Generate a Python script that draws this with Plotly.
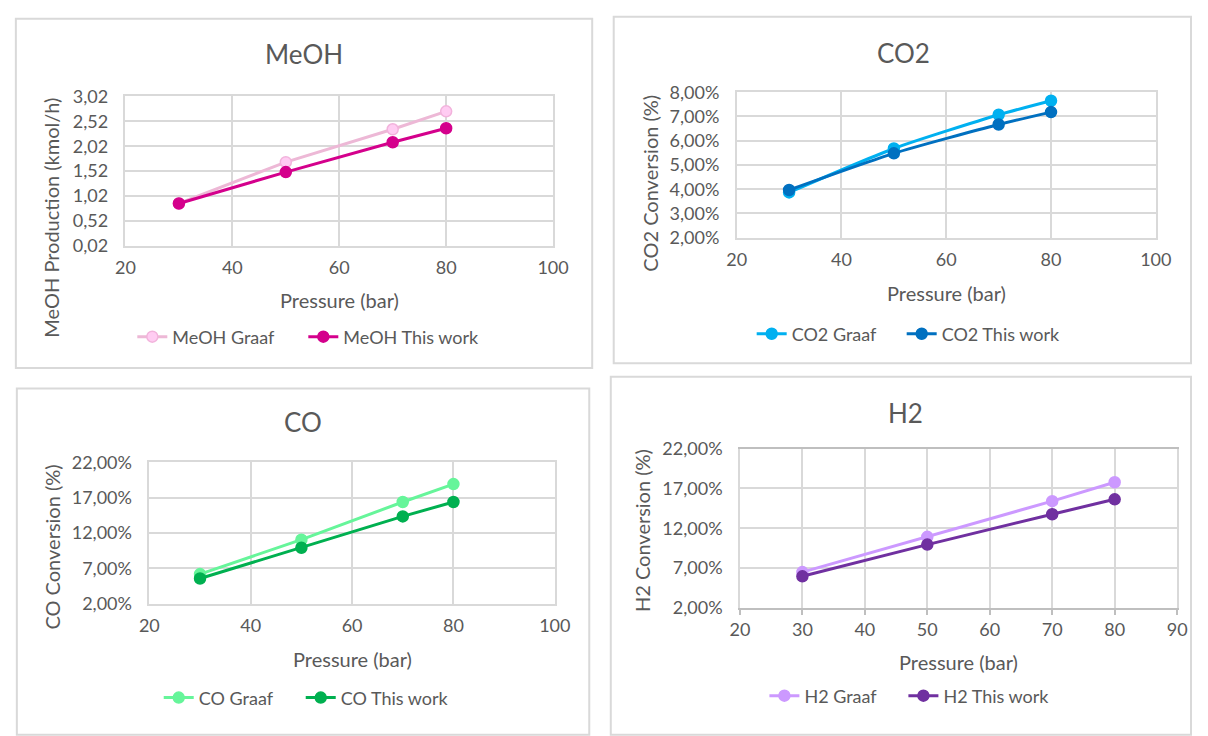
import plotly.graph_objects as go

W, H = 1208, 736

# Pressure levels (bar)
pressure = [30, 50, 70, 80]

# MeOH production (kmol/h)
meoh_graaf = [0.87, 1.70, 2.36, 2.72]
meoh_this = [0.87, 1.50, 2.10, 2.38]

# Conversions (%)
co2_graaf = [3.87, 5.68, 7.07, 7.65]
co2_this = [3.97, 5.48, 6.67, 7.18]
co_graaf = [6.20, 11.07, 16.40, 18.94]
co_this = [5.57, 9.92, 14.36, 16.40]
h2_graaf = [6.50, 10.92, 15.40, 17.77]
h2_this = [5.97, 9.95, 13.76, 15.63]

# Axis ticks
meoh_ticks = [0.02, 0.52, 1.02, 1.52, 2.02, 2.52, 3.02]
meoh_ticktext = ["0,02", "0,52", "1,02", "1,52", "2,02", "2,52", "3,02"]
co2_ticks = [2, 3, 4, 5, 6, 7, 8]
co2_ticktext = ["2,00%", "3,00%", "4,00%", "5,00%", "6,00%", "7,00%", "8,00%"]
conv_ticks = [2, 7, 12, 17, 22]
conv_ticktext = ["2,00%", "7,00%", "12,00%", "17,00%", "22,00%"]
x_ticks_20 = [20, 40, 60, 80, 100]
x_ticks_10 = [20, 30, 40, 50, 60, 70, 80, 90]

FONT = "Lato"
TXT = "#595959"
GRID = "#D9D9D9"
TICK_SIZE = 18
AXTITLE_SIZE = 20


def px_x(v):
    return v / W


def px_y(v):
    return 1 - v / H


fig = go.Figure()

# Each panel: plot-area pixel box, traces, titles, legend placement
panels = [
    dict(n="", box=(118, 555, 87, 241), xr=[20, 100], xt=x_ticks_20,
         yr=[0.02, 3.02], yt=meoh_ticks, ytt=meoh_ticktext,
         series=[("MeOH Graaf", meoh_graaf, "#EDB8D6", "#FFCCF2", "#F2B3DC", "linear"),
                 ("MeOH This work", meoh_this, "#D4008C", "#D4008C", "#D4008C", "linear")],
         title="MeOH", title_xy=(300, 43), ytitle="MeOH Production (kmol/h)",
         ytitle_xy=(42, 212), xtitle_y=297, legend_xy=(125, 335), entry=126,
         frame=(6, 7, 595, 367)),
    dict(n="2", box=(742.7, 1171, 82.7, 232.7), xr=[20, 100], xt=x_ticks_20,
         yr=[2, 8], yt=co2_ticks, ytt=co2_ticktext,
         series=[("CO2 Graaf", co2_graaf, "#00B0F0", "#00B0F0", "#00B0F0", "spline"),
                 ("CO2 This work", co2_this, "#0070C0", "#0070C0", "#0070C0", "spline")],
         title="CO2", title_xy=(913, 42), ytitle="CO2 Conversion (%)",
         ytitle_xy=(654, 176), xtitle_y=290, legend_xy=(758, 332), entry=105,
         frame=(617, 5, 1207, 362)),
    dict(n="3", box=(142.4, 556.8, 464.3, 610), xr=[20, 100], xt=x_ticks_20,
         yr=[2, 22], yt=conv_ticks, ytt=conv_ticktext,
         series=[("CO Graaf", co_graaf, "#66F59A", "#66F59A", "#66F59A", "linear"),
                 ("CO This work", co_this, "#00B050", "#00B050", "#00B050", "linear")],
         title="CO", title_xy=(299, 423), ytitle="CO Conversion (%)",
         ytitle_xy=(42, 552), xtitle_y=667, legend_xy=(152, 707), entry=97,
         frame=(7, 388, 592, 745)),
    dict(n="4", box=(746, 1192.8, 450, 614.3), xr=[20, 90], xt=x_ticks_10,
         yr=[2, 22], yt=conv_ticks, ytt=conv_ticktext,
         series=[("H2 Graaf", h2_graaf, "#CC99FF", "#CC99FF", "#CC99FF", "linear"),
                 ("H2 This work", h2_this, "#7030A0", "#7030A0", "#7030A0", "linear")],
         title="H2", title_xy=(915, 413), ytitle="H2 Conversion (%)",
         ytitle_xy=(646, 535), xtitle_y=670, legend_xy=(771, 705), entry=94,
         frame=(614, 376, 1207, 745)),
]

layout = dict(
    width=W, height=H, margin=dict(l=0, r=0, t=0, b=0),
    paper_bgcolor="white", plot_bgcolor="white",
    font=dict(family=FONT, color=TXT, size=16),
    showlegend=True, shapes=[], annotations=[],
)

for p in panels:
    n = p["n"]
    x0, x1, y0, y1 = p["box"]
    legend_name = "legend" + n
    for i, (name, vals, lc, mfill, mline, shape) in enumerate(p["series"]):
        fig.add_trace(go.Scatter(
            x=pressure, y=vals, name=name, mode="lines+markers",
            line=dict(color=lc, width=3, shape=shape, smoothing=0.6),
            marker=dict(size=11, color=mfill, line=dict(color=mline, width=1.5)),
            xaxis="x" + n, yaxis="y" + n, legend=legend_name,
            legendwidth=p["entry"] if i == 0 else 170,
        ))
    is_h2 = n == "4"
    layout["xaxis" + n] = dict(
        domain=[px_x(x0), px_x(x1)], anchor="y" + n, range=p["xr"],
        tickvals=p["xt"], showgrid=True, gridcolor=GRID, gridwidth=1.5,
        showline=True, mirror=True, linecolor="#BFBFBF" if is_h2 else GRID,
        linewidth=1.5, zeroline=False,
        ticks="outside", ticklen=5,
        tickcolor="#BFBFBF" if is_h2 else "rgba(0,0,0,0)",
        tickwidth=1.5, tickfont=dict(size=TICK_SIZE, color=TXT, family=FONT),
        fixedrange=True,
    )
    layout["yaxis" + n] = dict(
        domain=[px_y(y1), px_y(y0)], anchor="x" + n, range=p["yr"],
        tickvals=p["yt"], ticktext=p["ytt"], showgrid=True, gridcolor=GRID,
        gridwidth=1.5, showline=True, mirror=True, linecolor=GRID,
        linewidth=1.5, zeroline=False,
        ticks="outside", ticklen=12, tickcolor="rgba(0,0,0,0)",
        tickfont=dict(size=TICK_SIZE, color=TXT, family=FONT),
        fixedrange=True,
    )
    lx, ly = p["legend_xy"]
    layout[legend_name] = dict(
        x=px_x(lx), y=px_y(ly), xanchor="left", yanchor="middle",
        orientation="h", bgcolor="rgba(0,0,0,0)",
        font=dict(size=18, color=TXT, family=FONT), itemwidth=30,
    )
    fx0, fy0, fx1, fy1 = p["frame"]
    layout["shapes"].append(dict(
        type="rect", xref="paper", yref="paper",
        x0=px_x(fx0), x1=px_x(fx1), y0=px_y(fy1), y1=px_y(fy0),
        line=dict(color=GRID, width=2), fillcolor="rgba(0,0,0,0)", layer="below",
    ))
    tx, ty = p["title_xy"]
    layout["annotations"].append(dict(
        text=p["title"], x=px_x(tx), y=px_y(ty), xref="paper", yref="paper",
        xanchor="center", yanchor="middle", showarrow=False,
        font=dict(size=26, color=TXT, family=FONT),
    ))
    ax, ay = p["ytitle_xy"]
    layout["annotations"].append(dict(
        text=p["ytitle"], x=px_x(ax), y=px_y(ay), xref="paper", yref="paper",
        xanchor="center", yanchor="middle", showarrow=False, textangle=-90,
        font=dict(size=AXTITLE_SIZE, color=TXT, family=FONT),
    ))
    layout["annotations"].append(dict(
        text="Pressure (bar)", x=px_x((x0 + x1) / 2), y=px_y(p["xtitle_y"]),
        xref="paper", yref="paper", xanchor="center", yanchor="middle",
        showarrow=False, font=dict(size=AXTITLE_SIZE, color=TXT, family=FONT),
    ))

fig.update_layout(**layout)
fig.write_html("out.html")
